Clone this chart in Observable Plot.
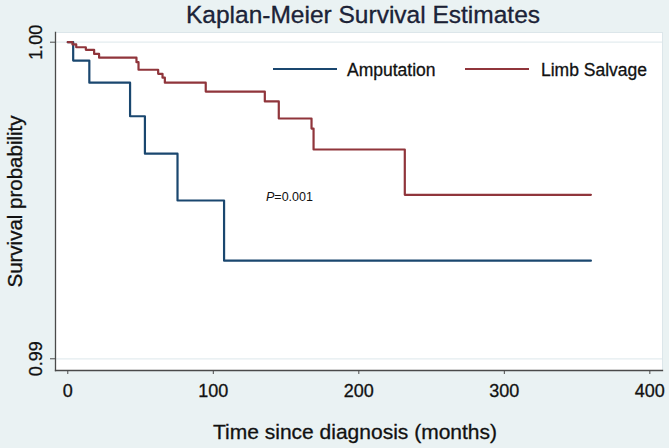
<!DOCTYPE html>
<html>
<head>
<meta charset="utf-8">
<script src="https://cdn.jsdelivr.net/npm/d3@7"></script>
<script src="https://cdn.jsdelivr.net/npm/@observablehq/plot@0.6"></script>
<style>
  html, body { margin: 0; padding: 0; background: #eaf2f3; }
  #wrap { position: relative; width: 669px; height: 448px; font-family: "Liberation Sans", Arial, sans-serif; }
  #wrap svg text { stroke: #111; stroke-width: 0.3px; }
  .leg { position: absolute; font-size: 17.5px; color: #111; line-height: 20px; white-space: nowrap; -webkit-text-stroke: 0.3px #111; }
  .legline { position: absolute; height: 0; border-top: 2px solid; }
  #pval { position: absolute; font-size: 12.5px; color: #111; line-height: 14px; white-space: nowrap; }
</style>
</head>
<body>
<div id="wrap"></div>
<script>
// ---- data ----
const ampTime  = [0, 3.7, 14.8, 42.8, 53.0, 75.4, 107.4, 359.5];
const ampSurv  = [1.0, 0.99942, 0.99872, 0.99766, 0.99648, 0.99500, 0.99310, 0.99310];
const salvTime = [0, 3.2, 5.8, 12.4, 18.1, 21.5, 47.2, 48.6, 62.1, 65.1, 66.7, 94.8, 135.4, 145.0, 167.5, 168.9, 231.6, 359.5];
const salvSurv = [1.0, 0.99993, 0.99984, 0.99976, 0.99963, 0.99951, 0.99937, 0.99913, 0.99900, 0.99888, 0.99872, 0.99844, 0.99813, 0.99759, 0.99727, 0.99661, 0.99518, 0.99518];
const groups   = ["Amputation", "Limb Salvage"];
const colors   = ["#1a476f", "#90353b"];
const xTicks   = [0, 100, 200, 300, 400];
const yTicks   = [0.99, 1.00];
const titleText = "Kaplan-Meier Survival Estimates";
const xLabel   = "Time since diagnosis (months)";
const yLabel   = "Survival probability";
const pText    = "=0.001";

const rows = [
  ...ampTime.map((t, i) => ({t, s: ampSurv[i], g: groups[0]})),
  ...salvTime.map((t, i) => ({t, s: salvSurv[i], g: groups[1]}))
];

const font = "Liberation Sans, Arial, sans-serif";
const chart = Plot.plot({
  width: 669, height: 448,
  marginLeft: 55, marginRight: 7, marginTop: 32, marginBottom: 78,
  style: {background: "#eaf2f3", fontFamily: font, fontSize: "18px", color: "#111"},
  x: {domain: [-8.45, 408.7]},
  y: {domain: [0.98963, 1.000306]},
  color: {domain: groups, range: colors},
  marks: [
    Plot.frame({fill: "white", stroke: "#dce6ea"}),
    Plot.ruleY(yTicks, {stroke: "#e3ecef", strokeWidth: 1.3}),
    Plot.line(rows, {x: "t", y: "s", z: "g", stroke: "g", curve: "step-after", strokeWidth: 2.2}),
    Plot.frame({anchor: "left", stroke: "#4a4a4a", strokeWidth: 1.3}),
    Plot.frame({anchor: "bottom", stroke: "#4a4a4a", strokeWidth: 1.3}),
    Plot.axisX({ticks: xTicks, tickSize: 4, tickPadding: 10, label: null, fontSize: 18, stroke: "#4a4a4a"}),
    Plot.axisY({ticks: yTicks, tickSize: 5, tickFormat: () => "", label: null, stroke: "#4a4a4a"}),
    Plot.text(yTicks, {y: d => d, frameAnchor: "left", text: d => d3.format(".2f")(d), rotate: -90, textAnchor: "middle", lineAnchor: "middle", dx: -19.5, fontSize: 18, fill: "#111"}),
    Plot.text([yLabel], {frameAnchor: "left", rotate: -90, textAnchor: "middle", lineAnchor: "middle", dx: -40, fontSize: 20.5, fill: "#111"}),
    Plot.text([xLabel], {frameAnchor: "bottom", lineAnchor: "middle", dy: 62, dx: -4, fontSize: 21, fill: "#111"}),
    Plot.text([titleText], {frameAnchor: "top", lineAnchor: "middle", dy: -17, dx: 4, fontSize: 24.5, fill: "#1c2541"})
  ]
});

const wrap = document.getElementById("wrap");
wrap.appendChild(chart);

// legend overlay
const legendItems = [
  {name: groups[0], color: colors[0], lineX: 273, lineW: 64, textX: 347},
  {name: groups[1], color: colors[1], lineX: 465, lineW: 64, textX: 541}
];
for (const it of legendItems) {
  const ln = document.createElement("div");
  ln.className = "legline";
  ln.style.left = it.lineX + "px";
  ln.style.top = "68px";
  ln.style.width = it.lineW + "px";
  ln.style.borderTopColor = it.color;
  wrap.appendChild(ln);
  const tx = document.createElement("div");
  tx.className = "leg";
  tx.style.left = it.textX + "px";
  tx.style.top = "60px";
  tx.textContent = it.name;
  wrap.appendChild(tx);
}
const p = document.createElement("div");
p.id = "pval";
p.style.left = "266px";
p.style.top = "190px";
p.innerHTML = "<i>P</i>" + pText;
wrap.appendChild(p);
</script>
</body>
</html>
